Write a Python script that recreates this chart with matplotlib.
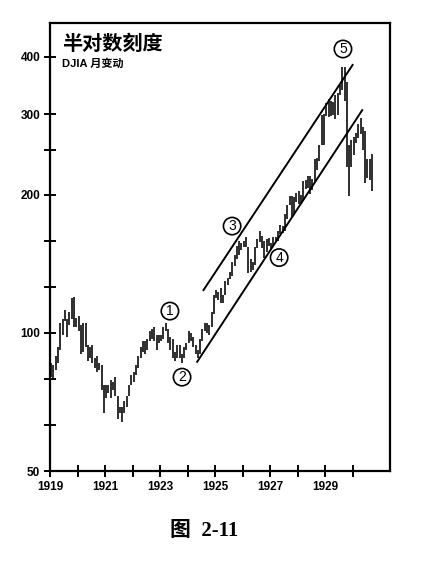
import numpy as np
import matplotlib.pyplot as plt
from matplotlib.ticker import FixedLocator, NullFormatter

plt.rcParams['font.family'] = ['Liberation Sans', 'Noto Sans CJK SC', 'DejaVu Sans']

# DJIA monthly high / low, Jan 1919 - Sep 1930
start_year = 1919
high = [86, 85, 89, 93, 105, 107, 112, 107, 111, 119, 119.6, 108,   # 1919
        109, 104, 105, 105, 94, 93, 94, 88, 89, 86, 85, 77,         # 1920
        77, 77, 79, 78, 80, 73, 69, 69, 71, 73, 77, 81,             # 1921
        82, 85, 89, 93, 96, 96, 97, 101, 102, 103, 99, 99,          # 1922
        99, 103, 105, 102, 98, 97, 91, 94, 94, 90, 93, 95,          # 1923
        101, 100, 98, 94, 92, 97, 102, 105, 105, 104, 111, 121,     # 1924
        124, 123, 125, 121, 130, 132, 136, 143, 148, 155, 159, 157, # 1925
        159, 162, 154, 145, 143, 154, 160, 167, 163, 159, 160, 161, # 1926
        157, 162, 162, 167, 172, 171, 182, 190, 199, 199, 198, 202, # 1927
        204, 200, 214, 216, 220, 220, 217, 240, 241, 257, 299, 300, # 1928
        317, 323, 321, 319, 331, 333, 348, 380, 381, 352, 257, 263, # 1929
        267, 273, 286, 294, 281, 275, 240, 240, 245]                # 1930
low = [80, 79, 83, 86, 92, 99, 106, 98, 104, 107, 103, 103,
       101, 90, 91, 93, 87, 88, 86, 84, 82, 83, 75, 67,
       72, 74, 72, 75, 73, 65, 67, 64, 67, 69, 73, 77,
       78, 81, 84, 88, 91, 90, 92, 96, 97, 96, 92, 95,
       96, 97, 101, 95, 92, 88, 87, 88, 88, 86, 88, 92,
       95, 96, 93, 90, 88, 90, 96, 101, 100, 99, 103, 110,
       119, 118, 116, 116, 121, 127, 131, 133, 140, 145, 148, 152,
       154, 154, 135, 136, 137, 141, 153, 158, 153, 146, 150, 155,
       152, 155, 158, 159, 164, 165, 167, 177, 190, 179, 181, 193,
       191, 191, 194, 206, 207, 201, 205, 213, 227, 237, 257, 257,
       297, 296, 297, 299, 293, 298, 330, 338, 320, 230, 199, 230,
       244, 259, 266, 272, 250, 212, 218, 216, 204]

# trend channel end points (year, price)
upper_x = [1924.58, 1930.0]
upper_y = [124, 384]
lower_x = [1924.35, 1930.35]
lower_y = [86.5, 306]

# wave labels
wave_labels = ['1', '2', '3', '4', '5']
wave_x = [1923.36, 1923.80, 1925.62, 1927.33, 1929.65]
wave_y = [111.6, 80.1, 171, 146, 416]

y_major = [50, 100, 200, 300, 400]
y_minor = [63, 79.4, 126, 159, 250]
x_ticks = list(range(1919, 1931))
x_labels = ['1919', '1921', '1923', '1925', '1927', '1929']

fig = plt.figure(figsize=(4.34, 5.61), dpi=100)
ax = fig.add_axes([0.1152, 0.1604, 0.7834, 0.7986])

months = start_year + (np.arange(len(high)) + 0.5) / 12
ax.vlines(months, low, high, color='black', lw=1.15)

ax.plot(upper_x, upper_y, color='black', lw=1.4)
ax.plot(lower_x, lower_y, color='black', lw=1.4)

for lab, wx, wy in zip(wave_labels, wave_x, wave_y):
    ax.text(wx, wy, lab, ha='center', va='center', fontsize=10,
            bbox=dict(boxstyle='circle,pad=0.12', fc='white', ec='black', lw=1.2))

ax.set_yscale('log')
ax.set_ylim(50, 474)
ax.set_xlim(1919, 1931.36)

ax.yaxis.set_major_locator(FixedLocator(y_major))
ax.yaxis.set_minor_locator(FixedLocator(y_minor))
ax.yaxis.set_minor_formatter(NullFormatter())
ax.set_yticklabels([str(v) for v in y_major], fontsize=8.5, fontweight='bold')

ax.set_xticks(x_ticks)
ax.set_xticklabels([str(y) if str(y) in x_labels else '' for y in x_ticks],
                   fontsize=8.5, fontweight='bold')

ax.tick_params(axis='both', which='both', direction='inout', length=8, width=1.4, pad=3)
for s in ax.spines.values():
    s.set_linewidth(1.6)

fig.text(0.143, 0.912, '半对数刻度', fontsize=14.5, fontweight='bold',
         family=['Noto Sans CJK SC'], ha='left', va='baseline')
fig.text(0.143, 0.881, 'DJIA 月变动', fontsize=8, fontweight='bold',
         family=['Liberation Sans', 'Noto Sans CJK SC'], ha='left', va='baseline')

fig.text(0.47, 0.053, '图  2-11', fontsize=15, fontweight='bold',
         family=['Liberation Serif', 'Noto Sans CJK SC'], ha='center', va='center')

fig.savefig('out.png', dpi=100)
